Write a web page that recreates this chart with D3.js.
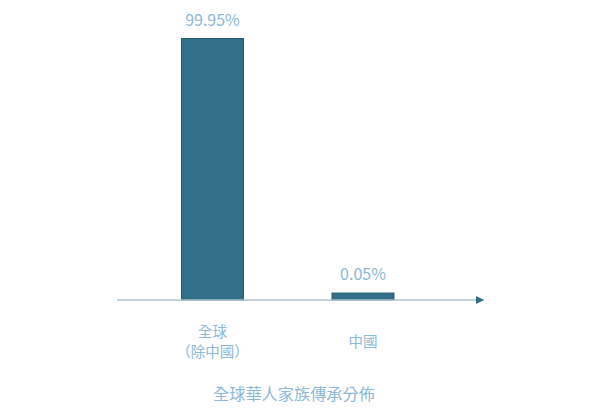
<!DOCTYPE html>
<html>
<head>
<meta charset="utf-8">
<script src="https://cdn.jsdelivr.net/npm/d3@7"></script>
<style>
  body { margin: 0; background: #fff; }
  text { font-family: "Noto Sans CJK TC", "Noto Sans", sans-serif; }
</style>
</head>
<body>
<svg id="chart" width="604" height="409"></svg>
<script>
// data
var categories = [['全球', '（除中國）'], ['中國']];
var values = [99.95, 0.05];
var valueLabels = ['99.95%', '0.05%'];
var title = '全球華人家族傳承分佈';

var svg = d3.select('#chart');

var axisY = 300;

// x: band scale, bar centres at ~212 and ~363
var x = d3.scaleBand()
    .domain(d3.range(values.length))
    .range([137.25, 438.25])
    .paddingInner(0.588)
    .paddingOuter(0.294);

// the small bar is still visible in the original, so a symlog scale
var y = d3.scaleSymlog()
    .constant(0.3)
    .domain([0, 99.95])
    .range([axisY, 38.5]);

// arrow marker
svg.append('defs').append('marker')
    .attr('id', 'arrow')
    .attr('viewBox', '0 0 10 10')
    .attr('refX', 10).attr('refY', 5)
    .attr('markerWidth', 8).attr('markerHeight', 8)
    .attr('markerUnits', 'userSpaceOnUse')
    .attr('orient', 'auto')
    .append('path')
    .attr('d', 'M0,0 L10,5 L0,10 z')
    .attr('fill', '#2f6d86');

// bars
svg.selectAll('rect.bar')
    .data(values)
    .enter()
    .append('rect')
    .attr('class', 'bar')
    .attr('x', (d, i) => x(i))
    .attr('y', d => y(d))
    .attr('width', x.bandwidth())
    .attr('height', d => axisY - y(d))
    .attr('fill', '#316f88')
    .attr('stroke', '#265c70')
    .attr('stroke-width', 1);

// axis line
svg.append('line')
    .attr('x1', 117).attr('x2', 484)
    .attr('y1', axisY).attr('y2', axisY)
    .attr('stroke', '#aec2ce')
    .attr('stroke-width', 1.5)
    .attr('marker-end', 'url(#arrow)');

// value labels
svg.selectAll('text.val')
    .data(valueLabels)
    .enter()
    .append('text')
    .attr('class', 'val')
    .attr('x', (d, i) => x(i) + x.bandwidth() / 2)
    .attr('y', (d, i) => y(values[i]) - 13)
    .attr('text-anchor', 'middle')
    .attr('font-size', 16)
    .attr('fill', '#8bb8d6')
    .text(d => d);

// category labels, vertically centred around y=342
var lineH = 20.5;
var cat = svg.selectAll('text.cat')
    .data(categories)
    .enter()
    .append('text')
    .attr('class', 'cat')
    .attr('text-anchor', 'middle')
    .attr('font-size', 14.5)
    .attr('fill', '#8bb8d6');

cat.selectAll('tspan')
    .data((d, i) => d.map((t, j) => ({t: t, i: i, j: j, n: d.length})))
    .enter()
    .append('tspan')
    .attr('x', d => x(d.i) + x.bandwidth() / 2)
    .attr('y', d => 347 + (d.j - (d.n - 1) / 2) * lineH)
    .text(d => d.t);

// title
svg.append('text')
    .attr('x', 294)
    .attr('y', 400)
    .attr('text-anchor', 'middle')
    .attr('font-size', 16.2)
    .attr('fill', '#8bb8d6')
    .text(title);
</script>
</body>
</html>
